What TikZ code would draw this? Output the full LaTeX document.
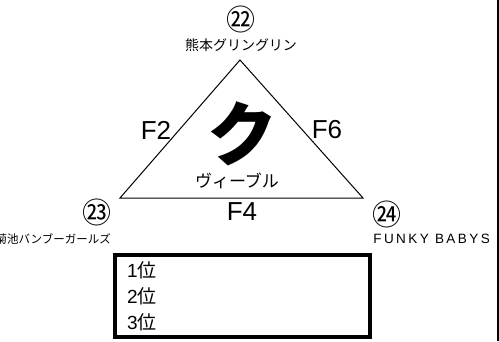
\documentclass[tikz,border=0pt]{standalone}
\usepackage{fontspec}
\setmainfont{Liberation Sans}
\newfontfamily\jp{Noto Sans CJK JP}
\usetikzlibrary{positioning}

\begin{document}
\begin{tikzpicture}[x=1pt, y=-1pt, inner sep=0pt,
		num/.style={font=\jp\fontsize{29}{29}\selectfont},
		team/.style={font=\jp\fontsize{13}{13}\selectfont},
		side/.style={font=\fontsize{26}{26}\selectfont},
		rank/.style={anchor=west, font=\fontsize{19}{19}\selectfont}]
			\useasboundingbox (0,0) rectangle (499,341);
			\coordinate (A) at (240,60);
			\coordinate (B) at (120,198);
			\coordinate (C) at (363,198);
			\draw[line width=1pt] (A) -- (B) -- (C) -- cycle;
			\node[num] (n22) at (241,19) {㉒};
			\node[team, font=\jp\fontsize{14}{14}\selectfont] (kumamoto) at (241,45) {熊本グリングリン};
			\node[num] (n23) at (97,212) {㉓};
			\node[team, font=\jp\fontsize{11.5}{11.5}\selectfont, anchor=east] (kikuchi) at (111,239) {菊池バンブーガールズ};
			\node[num] (n24) at (387,214) {㉔};
			\node[anchor=east, font=\fontsize{13.5}{13.5}\selectfont\addfontfeature{LetterSpace=18}] (funky) at (490,239) {FUNKY BABYS};
			\node[side] (f2) at (156,130) {F2};
			\node[side] (f6) at (327,130) {F6};
			\node[side] (f4) at (242,212) {F4};
			\node[font=\jp\bfseries\fontsize{70}{70}\selectfont] (ku) at (242,134) {ク};
			\node[font=\jp\fontsize{17}{17}\selectfont] (vivle) at (237,181) {ヴィーブル};
			\draw[line width=1.5pt] (498,0) -- (498,341);
			\draw[line width=3.5pt] (115,255) rectangle (370,337);
			\node[rank] (r1) at (127,270) {1{\jp 位}};
			\node[rank] (r2) at (127,296) {2{\jp 位}};
			\node[rank] (r3) at (127,322) {3{\jp 位}};
		\end{tikzpicture}
\end{document}
